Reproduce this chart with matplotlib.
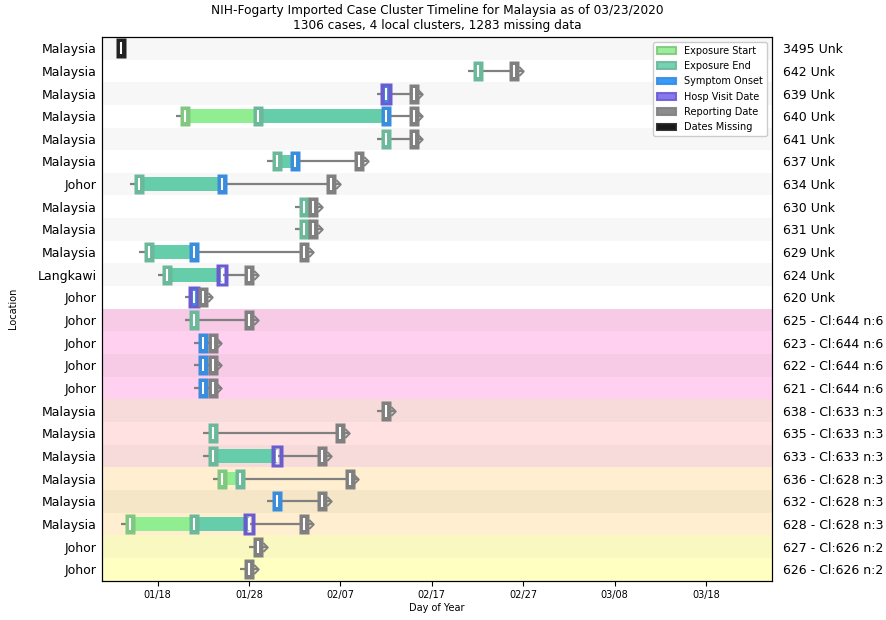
import numpy as np
import matplotlib
matplotlib.use("Agg")
import matplotlib.pyplot as plt
from matplotlib.patches import Patch
from matplotlib.path import Path

nan = np.nan

locations = ["Malaysia", "Malaysia", "Malaysia", "Malaysia", "Malaysia", "Malaysia",
             "Johor", "Malaysia", "Malaysia", "Malaysia", "Langkawi", "Johor",
             "Johor", "Johor", "Johor", "Johor", "Malaysia", "Malaysia", "Malaysia",
             "Malaysia", "Malaysia", "Malaysia", "Johor", "Johor"]
case_labels = ["3495 Unk", "642 Unk", "639 Unk", "640 Unk", "641 Unk", "637 Unk",
               "634 Unk", "630 Unk", "631 Unk", "629 Unk", "624 Unk", "620 Unk",
               "625 - Cl:644 n:6", "623 - Cl:644 n:6", "622 - Cl:644 n:6", "621 - Cl:644 n:6",
               "638 - Cl:633 n:3", "635 - Cl:633 n:3", "633 - Cl:633 n:3",
               "636 - Cl:628 n:3", "632 - Cl:628 n:3", "628 - Cl:628 n:3",
               "627 - Cl:626 n:2", "626 - Cl:626 n:2"]
clusters = ["Unk"] * 12 + ["644"] * 4 + ["633"] * 3 + ["628"] * 3 + ["626"] * 2

# dates as day of year (2020)
exposure_start = [nan, nan, nan, 21, nan, nan, nan, nan, nan, nan, nan, nan,
                  nan, nan, nan, nan, nan, nan, nan, 25, nan, 15, nan, nan]
exposure_end = [nan, 53, nan, 29, 43, 31, 16, 34, 34, 17, 19, nan,
                22, nan, nan, nan, nan, 24, 24, 27, nan, 22, nan, nan]
symptom_onset = [nan, nan, 43, 43, nan, 33, 25, nan, nan, 22, nan, 22,
                 nan, 23, 23, 23, nan, nan, nan, nan, 31, nan, nan, nan]
hosp_visit = [nan, nan, 43, nan, nan, nan, nan, nan, nan, nan, 25, 22,
              nan, nan, nan, nan, nan, nan, 31, nan, nan, 28, nan, nan]
reporting = [nan, 57, 46, 46, 46, 40, 37, 35, 35, 34, 28, 23,
             28, 24, 24, 24, 43, 38, 36, 39, 36, 34, 29, 28]
dates_missing = [14] + [nan] * 23

tick_days = [18, 28, 38, 48, 58, 68, 78]
tick_labels = ["01/18", "01/28", "02/07", "02/17", "02/27", "03/08", "03/18"]

legend_labels = ["Exposure Start", "Exposure End", "Symptom Onset",
                 "Hosp Visit Date", "Reporting Date", "Dates Missing"]
legend_colors = ["#90EE90", "#66CDAA", "#1E90FF", "#7B68EE", "#808080", "#000000"]
marker_colors = ["#80C880", "#6BB89B", "#3A8CDC", "#6A5CD0", "#808080", "#222222"]

cluster_bg = {"Unk": ("#F7F7F7", "#FFFFFF"), "644": ("#F7CAE6", "#FFD0F0"),
              "633": ("#F7DADA", "#FFE1E1"), "628": ("#F6E6C8", "#FFEECF"),
              "626": ("#F8F8C0", "#FFFFC2")}

fig = plt.figure(figsize=(8.87, 6.2), dpi=100)
ax = fig.add_axes([0.115, 0.0635, 0.755, 0.877])
n = len(locations)
ys = np.arange(n)

# background stripes (even rows slightly darker)
for i in range(n):
    dark, light = cluster_bg[clusters[i]]
    col = dark if i % 2 == 0 else light
    ax.axhspan(i - 0.5, i + 0.5, color=col, zorder=0, lw=0)

rect = [(-0.5, -1), (0.5, -1), (0.5, 1), (-0.5, 1), (-0.5, -1)]
frame_verts = [(-0.5, -1), (0.5, -1), (0.5, 1), (-0.5, 1), (-0.5, -1),
               (-0.2, -0.72), (-0.2, 0.72), (0.2, 0.72), (0.2, -0.72), (-0.2, -0.72)]
frame_codes = [Path.MOVETO, Path.LINETO, Path.LINETO, Path.LINETO, Path.CLOSEPOLY,
               Path.MOVETO, Path.LINETO, Path.LINETO, Path.LINETO, Path.CLOSEPOLY]
frame = Path(frame_verts, frame_codes)
chevron = Path([(-0.5, 1), (0.5, 0), (-0.5, -1)], [Path.MOVETO, Path.LINETO, Path.LINETO])

series = [exposure_start, exposure_end, symptom_onset, hosp_visit, reporting, dates_missing]

for i in range(n):
    y = ys[i]
    evs = [s[i] for s in series[:5] if not np.isnan(s[i])]
    if evs and not np.isnan(reporting[i]):
        start = min(evs) - 1
        end = reporting[i] + 0.95
        ax.plot([start, end], [y, y], color="#808080", lw=1.6, zorder=1,
                solid_capstyle="butt")
        ax.plot([end - 0.2], [y], linestyle="none", marker=chevron, markersize=6.5,
                fillstyle="none", markeredgecolor="#808080", markeredgewidth=1.4,
                zorder=1)
    # bars
    es, ee = exposure_start[i], exposure_end[i]
    if not np.isnan(es) and not np.isnan(ee):
        ax.barh(y, ee - es, left=es, height=0.6, color="#90EE90", zorder=2)
    onset = symptom_onset[i] if not np.isnan(symptom_onset[i]) else hosp_visit[i]
    if not np.isnan(ee) and not np.isnan(onset):
        ax.barh(y, onset - ee, left=ee, height=0.6, color="#66CDAA", zorder=2)

for k, s in enumerate(series):
    xs = np.array(s, dtype=float)
    m = ~np.isnan(xs)
    if k == 3:
        ax.plot(xs[m], ys[m], linestyle="none", marker="|", markersize=8.5,
                markeredgewidth=1.5, color="white", zorder=3 + k)
        ax.plot(xs[m], ys[m], linestyle="none", marker=frame, markersize=16,
                markerfacecolor=marker_colors[k], markeredgecolor="none",
                zorder=3 + k)
        continue
    ax.plot(xs[m], ys[m], linestyle="none", marker=rect, markersize=14.5,
            markerfacecolor=marker_colors[k], markeredgecolor="none",
            zorder=3 + k)
    ax.plot(xs[m], ys[m], linestyle="none", marker="|", markersize=8.5,
            markeredgewidth=1.5, color="white", zorder=3 + k)

ax.set_ylim(n - 0.5, -0.5)
ax.set_xlim(11.9, 85.2)
ax.set_yticks(ys)
ax.set_yticklabels(locations, fontsize=9)
ax.set_xticks(tick_days)
ax.set_xticklabels(tick_labels, fontsize=7)
ax.tick_params(axis="y", length=0, pad=4)
ax.set_xlabel("Day of Year", fontsize=7, labelpad=2)
ax.set_ylabel("Location", fontsize=7, labelpad=14)
ax.set_title("NIH-Fogarty Imported Case Cluster Timeline for Malaysia as of 03/23/2020\n"
             "1306 cases, 4 local clusters, 1283 missing data", fontsize=8.7)

ax2 = ax.twinx()
ax2.set_ylim(n - 0.5, -0.5)
ax2.set_yticks(ys)
ax2.set_yticklabels(case_labels, fontsize=9)
ax2.tick_params(axis="y", length=0, pad=8)

handles = [Patch(facecolor=c, edgecolor=mc, alpha=0.9, linewidth=1.5)
           for c, mc in zip(legend_colors, marker_colors)]
ax.legend(handles, legend_labels, loc="upper right", fontsize=7,
          framealpha=1, labelspacing=0.55, borderaxespad=0.5)

fig.savefig("out.png", dpi=100)
